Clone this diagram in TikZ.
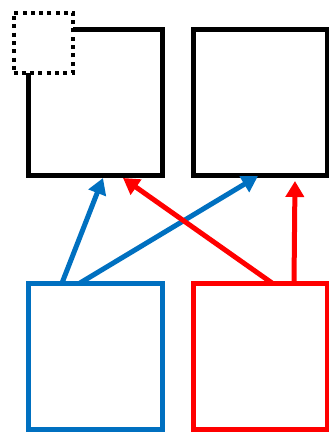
\documentclass[tikz,border=0pt]{standalone}
\usetikzlibrary{arrows.meta,calc}
\definecolor{myblue}{HTML}{0070C0}
\definecolor{myred}{HTML}{FF0000}
\begin{document}
\begin{tikzpicture}[x=1pt,y=-1pt,
  box/.style={draw,line width=5pt,inner sep=0pt,outer sep=0pt,minimum width=134pt,minimum height=146pt},
  conn/.style={line width=5pt,-{Triangle[length=16pt,width=18pt]}}]
\useasboundingbox (0,0) rectangle (329,432);
\node[box] (tl) at (95.5,102.5) {};
\node[box,minimum width=133.5pt] (tr) at (260.25,102.5) {};
\node[draw,line width=4pt,dash pattern=on 4pt off 4.3pt,inner sep=0pt,outer sep=0pt,minimum width=59.5pt,minimum height=60pt,fill=white] (ds) at (43.25,42.5) {};
\node[box,draw=myblue,minimum height=146.5pt] (bl) at (95.5,356.25) {};
\node[box,draw=myred,minimum width=133.5pt,minimum height=146.5pt] (rd) at (260.25,356.25) {};
\draw[conn,myblue] ($(bl.north west)+(33.5,0)$) -- ($(tl.south west)+(74.5,2.5)$);
\draw[conn,myblue] ($(bl.north west)+(51.5,0)$) -- ($(tr.south west)+(64.5,0.5)$);
\draw[conn,myred] ($(rd.north west)+(78.5,0)$) -- ($(tl.south west)+(94.5,2.5)$);
\draw[conn,myred] ($(rd.north west)+(100.5,0)$) -- ($(tr.south west)+(101.5,5.5)$);
\end{tikzpicture}
\end{document}
